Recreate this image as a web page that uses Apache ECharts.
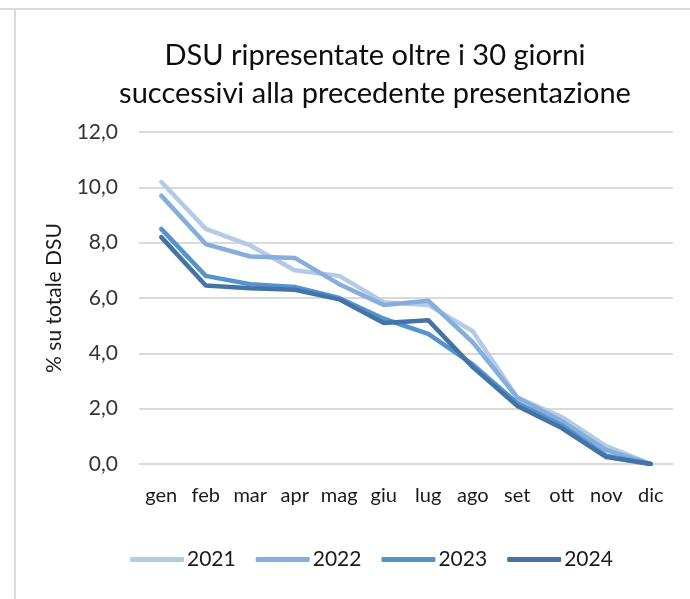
<!DOCTYPE html>
<html>
<head>
<meta charset="utf-8">
<script src="https://cdn.jsdelivr.net/npm/echarts@6/dist/echarts.min.js"></script>
<style>
  html, body { margin: 0; padding: 0; background: #fff; }
  #chart { width: 690px; height: 599px; }
</style>
</head>
<body>
<div id="chart"></div>
<script>
// mesi
const months = ['gen', 'feb', 'mar', 'apr', 'mag', 'giu', 'lug', 'ago', 'set', 'ott', 'nov', 'dic']
// % su totale DSU, per anno
const y2021 = [10.2, 8.5, 7.9, 7.0, 6.8, 5.85, 5.75, 4.8, 2.4, 1.7, 0.65, 0.0]
const y2022 = [9.7, 7.95, 7.5, 7.45, 6.5, 5.75, 5.9, 4.4, 2.4, 1.55, 0.5, 0.0]
const y2023 = [8.5, 6.8, 6.5, 6.4, 6.0, 5.25, 4.7, 3.6, 2.2, 1.4, 0.3, 0.0]
const y2024 = [8.2, 6.45, 6.35, 6.3, 5.95, 5.1, 5.2, 3.5, 2.1, 1.3, 0.25, 0.0]
const years = ['2021', '2022', '2023', '2024']
const yTicks = { min: 0, max: 12, interval: 2 }

const colors = ['#b4cbe8', '#85aedd', '#5593cf', '#4474a5']
const font = 'Lato, "Open Sans", sans-serif'

const chart = echarts.init(document.getElementById('chart'))

const mkSeries = (name, values, i) => ({
    name: name,
    type: 'line',
    data: values,
    showSymbol: false,
    symbol: 'none',
    lineStyle: { width: 4.5, color: colors[i], cap: 'round', join: 'round' },
    itemStyle: { color: colors[i] },
    z: 2 + i,
})

const option = {
    animation: false,
    backgroundColor: '#ffffff',
    title: {
        text: 'DSU ripresentate oltre i 30 giorni\nsuccessivi alla precedente presentazione',
        left: 370,
        top: 32,
        textAlign: 'center',
        textStyle: {
            fontFamily: font,
            fontSize: 29,
            fontWeight: 'normal',
            color: '#0d0d0d',
            lineHeight: 38,
        },
    },
    graphic: [
        { type: 'line', shape: { x1: 0, y1: 9, x2: 690, y2: 9 }, style: { stroke: '#d9d9d9', lineWidth: 2 } },
        { type: 'line', shape: { x1: 15, y1: 9, x2: 15, y2: 599 }, style: { stroke: '#d9d9d9', lineWidth: 2 } },
    ],
    legend: {
        bottom: 24,
        left: 125,
        icon: 'roundRect',
        itemWidth: 54,
        itemHeight: 5,
        itemGap: 20,
        textStyle: { fontFamily: font, fontSize: 21, color: '#1a1a1a', padding: [0, 0, 0, -2] },
        data: years,
    },
    grid: {
        left: 139,
        right: 17,
        top: 132,
        bottom: 135,
        containLabel: false,
    },
    xAxis: {
        type: 'category',
        data: months,
        boundaryGap: true,
        axisLine: { show: false },
        axisTick: { show: false },
        axisLabel: { interval: 0, hideOverlap: false, fontFamily: font, fontSize: 20, color: '#1a1a1a', margin: 22 },
    },
    yAxis: {
        type: 'value',
        min: yTicks.min,
        max: yTicks.max,
        interval: yTicks.interval,
        name: '% su totale DSU',
        nameLocation: 'middle',
        nameGap: 74,
        nameTextStyle: { fontFamily: font, fontSize: 21, color: '#1a1a1a' },
        axisLine: { show: false },
        axisTick: { show: false },
        axisLabel: {
            fontFamily: font,
            fontSize: 21,
            color: '#333333',
            margin: 21,
            formatter: v => v.toFixed(1).replace('.', ','),
        },
        splitLine: { lineStyle: { color: '#d9d9d9', width: 2 } },
    },
    series: [
        mkSeries('2021', y2021, 0),
        mkSeries('2022', y2022, 1),
        mkSeries('2023', y2023, 2),
        mkSeries('2024', y2024, 3),
    ],
}

chart.setOption(option)
</script>
</body>
</html>
